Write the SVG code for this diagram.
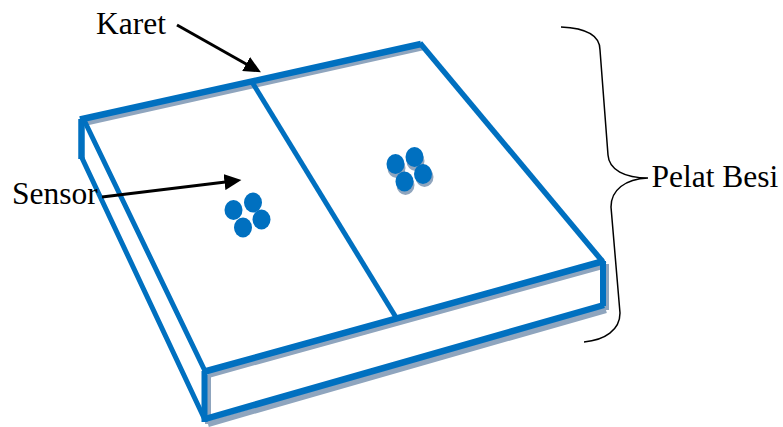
<svg xmlns="http://www.w3.org/2000/svg" width="783" height="427" viewBox="0 0 783 427">
  <style>
    .b{fill:none;stroke:#0070c0;stroke-linecap:butt}
    .s{fill:none;stroke:#8fa5be}
    .t{font-family:"Liberation Serif","Times New Roman",serif;font-size:31.500px;fill:#000}
    .a{fill:none;stroke:#000;stroke-width:3}
    .d{fill:#0070c0}
    .ds{fill:#8fa5be}
  </style>
  <defs>
    <marker id="ah" markerUnits="userSpaceOnUse" markerWidth="18" markerHeight="16" refX="1" refY="8" orient="auto">
      <path d="M0 0L17 8L0 16Z" fill="#000"/>
    </marker>
  </defs>
  <rect width="783" height="427" fill="#fff"/>
  <g id="plate-shadow">
    <path class="s" stroke-width="6" d="M84 123L424 47"/>
    <path class="s" stroke-width="4" d="M423 47L605 264"/>
    <path class="s" stroke-width="6" d="M208 375L606 265M208 424L606 310"/>
    <path class="s" stroke-width="6" d="M606 264V310M208 375V424"/>
  </g>
  <g id="plate">
    <path class="b" stroke-width="6.500" d="M80 119.500L421 44"/>
    <path class="b" stroke-width="5" d="M84 120L205 371M82 158L205 420"/>
    <path class="b" stroke-width="6.500" d="M81.500 119V159"/>
    <path class="b" stroke-width="5.500" d="M420 43L603 262"/>
    <path class="b" stroke-width="6.500" d="M203 372L604 261M205 419L604 305"/>
    <path class="b" stroke-width="6" d="M204.500 371V422M603 261V306"/>
  </g>
  <g id="divider">
    <path class="b" stroke-width="5" d="M252 82L397 319"/>
  </g>
  <g id="sensor-left">
    <ellipse class="d" cx="233.500" cy="210" rx="9" ry="10"/>
    <ellipse class="d" cx="253" cy="202.500" rx="9" ry="10"/>
    <ellipse class="d" cx="261.500" cy="219.500" rx="9" ry="10"/>
    <ellipse class="d" cx="243" cy="227.500" rx="9" ry="10"/>
  </g>
  <g id="sensor-right">
    <ellipse class="ds" cx="396.500" cy="168" rx="9" ry="10"/>
    <ellipse class="ds" cx="415.500" cy="161" rx="9" ry="10"/>
    <ellipse class="ds" cx="424.500" cy="177" rx="9" ry="10"/>
    <ellipse class="ds" cx="405.500" cy="185" rx="9" ry="10"/>
    <ellipse class="d" cx="395.500" cy="164" rx="9" ry="10"/>
    <ellipse class="d" cx="414.500" cy="157" rx="9" ry="10"/>
    <ellipse class="d" cx="423" cy="174" rx="9" ry="10"/>
    <ellipse class="d" cx="404.500" cy="181.500" rx="9" ry="10"/>
  </g>
  <g id="brace">
    <path fill="none" stroke="#000" stroke-width="1.500" d="M561 27C585 28 600 35 600 50L608 155C609 170 625 178 648 178C625 179 611 190 611 207L620 313C620 330 605 340 584 342"/>
  </g>
  <g id="connectors">
    <path class="a" marker-end="url(#ah)" d="M177 25L247 64.500"/>
    <path class="a" marker-end="url(#ah)" d="M102 197L225.500 182"/>
  </g>
  <g id="label-karet"><text class="t" x="96" y="34">Karet</text></g>
  <g id="label-sensor"><text class="t" x="12" y="204">Sensor</text></g>
  <g id="label-pelat"><text class="t" x="651.500" y="187">Pelat Besi</text></g>
</svg>
